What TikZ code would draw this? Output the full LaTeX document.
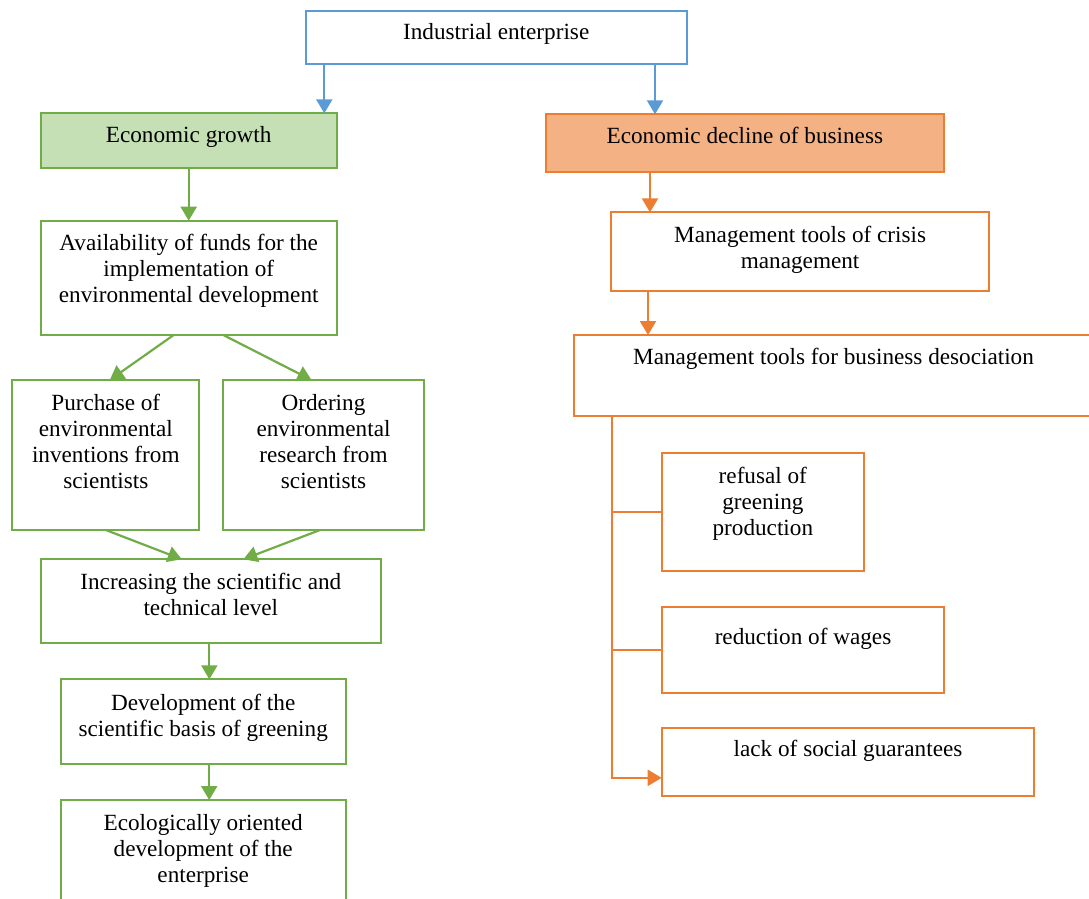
\documentclass[tikz,border=0pt]{standalone}
\usepackage{fontspec}
\setmainfont{Liberation Serif}
\usetikzlibrary{arrows.meta}
\definecolor{cblue}{HTML}{5B9BD5}
\definecolor{cgreen}{HTML}{70AD47}
\definecolor{cgreenfill}{HTML}{C5E0B4}
\definecolor{corange}{HTML}{ED7D31}
\definecolor{corangefill}{HTML}{F4B183}
\newcommand\bxt[4]{\parbox[c][#2][t]{#1}{\centering\vspace*{#3}\strut #4\par}}
\tikzset{
  basebox/.style={rectangle, inner sep=0pt, outer sep=0pt, anchor=north west, line width=2.2pt, font=\fontsize{23.2}{26}\selectfont, text=black},
  bbox/.style={basebox, draw=cblue, fill=white},
  gbox/.style={basebox, draw=cgreen, fill=white},
  gfbox/.style={basebox, draw=cgreen, fill=cgreenfill},
  obox/.style={basebox, draw=corange, fill=white},
  ofbox/.style={basebox, draw=corange, fill=corangefill},
  arr/.style={line width=2.2pt, -{Triangle[width=16pt,length=14pt]}},
  barr/.style={arr, draw=cblue},
  garr/.style={arr, draw=cgreen},
  oarr/.style={arr, draw=corange},
  oline/.style={line width=2.2pt, draw=corange},
}
\begin{document}
\begin{tikzpicture}[x=1pt, y=-1pt]
\useasboundingbox (0,0) rectangle (1089,899);
% boxes
\node[bbox] (ie) at (305.7,11) {\bxt{381pt}{53.3pt}{10pt}{Industrial enterprise}};
\node[gfbox] (eg) at (40.7,113.3) {\bxt{296pt}{55pt}{11pt}{Economic growth}};
\node[ofbox] (ed) at (545.7,114.3) {\bxt{398.3pt}{57.4pt}{10.5pt}{Economic decline of business}};
\node[gbox] (avail) at (40.7,220.7) {\bxt{296pt}{114.3pt}{12pt}{Availability of funds for the\\implementation of\\environmental development}};
\node[gbox] (pur) at (12.3,380) {\bxt{187pt}{150pt}{12.5pt}{Purchase of\\environmental\\inventions from\\scientists}};
\node[gbox] (ord) at (222.7,380) {\bxt{201.6pt}{150pt}{12.5pt}{Ordering\\environmental\\research from\\scientists}};
\node[gbox] (incr) at (40.7,559.3) {\bxt{340.3pt}{84pt}{12pt}{Increasing the scientific and\\technical level}};
\node[gbox] (dev) at (60.7,679.3) {\bxt{285pt}{85pt}{12.5pt}{Development of the\\scientific basis of greening}};
\node[gbox] (eco) at (60.7,800) {\bxt{285pt}{110pt}{12pt}{Ecologically oriented\\development of the\\enterprise}};
\node[obox] (crisis) at (611,212.3) {\bxt{378.3pt}{78.7pt}{12pt}{Management tools of crisis\\management}};
\node[obox] (desoc) at (574,335) {\bxt{519pt}{81pt}{11pt}{Management tools for business desociation}};
\node[obox] (refusal) at (661.7,453.3) {\bxt{202.3pt}{117.7pt}{12pt}{refusal of\\greening\\production}};
\node[obox] (reduc) at (661.7,606.7) {\bxt{282.6pt}{86pt}{20pt}{reduction of wages}};
\node[obox] (lack) at (661.7,727.7) {\bxt{372.6pt}{68.3pt}{11pt}{lack of social guarantees}};
% blue arrows
\draw[barr] ([xshift=18.6pt]ie.south west) -- ([xshift=18.6pt]ie.south west |- eg.north);
\draw[barr] ([xshift=-31.7pt]ie.south east) -- ([xshift=-31.7pt]ie.south east |- ed.north);
% green arrows
\draw[garr] (eg.south) -- (avail.north);
\draw[garr] ([xshift=-15pt]avail.south) -- ([xshift=4pt]pur.north);
\draw[garr] ([xshift=34.6pt]avail.south) -- ([xshift=-12pt]ord.north);
\draw[garr] (pur.south) -- ([xshift=-29pt]incr.north);
\draw[garr] ([xshift=-3.5pt]ord.south) -- ([xshift=32.5pt]incr.north);
\draw[garr] ([xshift=-1.5pt]incr.south) -- ([xshift=-1.5pt]incr.south |- dev.north);
\draw[garr] ([xshift=6pt]dev.south) -- ([xshift=6pt]dev.south |- eco.north);
% orange arrows
\draw[oarr] ([xshift=104.3pt]ed.south west) -- ([xshift=104.3pt]ed.south west |- crisis.north);
\draw[oarr] ([xshift=37pt]crisis.south west) -- ([xshift=37pt]crisis.south west |- desoc.north);
\coordinate (trunk) at ([xshift=37.7pt]desoc.south west);
\draw[oarr] (trunk) |- ([yshift=-16pt]lack.west);
\draw[oline] (trunk |- refusal.west) -- (refusal.west);
\draw[oline] (trunk |- reduc.west) -- (reduc.west);
\end{tikzpicture}
\end{document}
